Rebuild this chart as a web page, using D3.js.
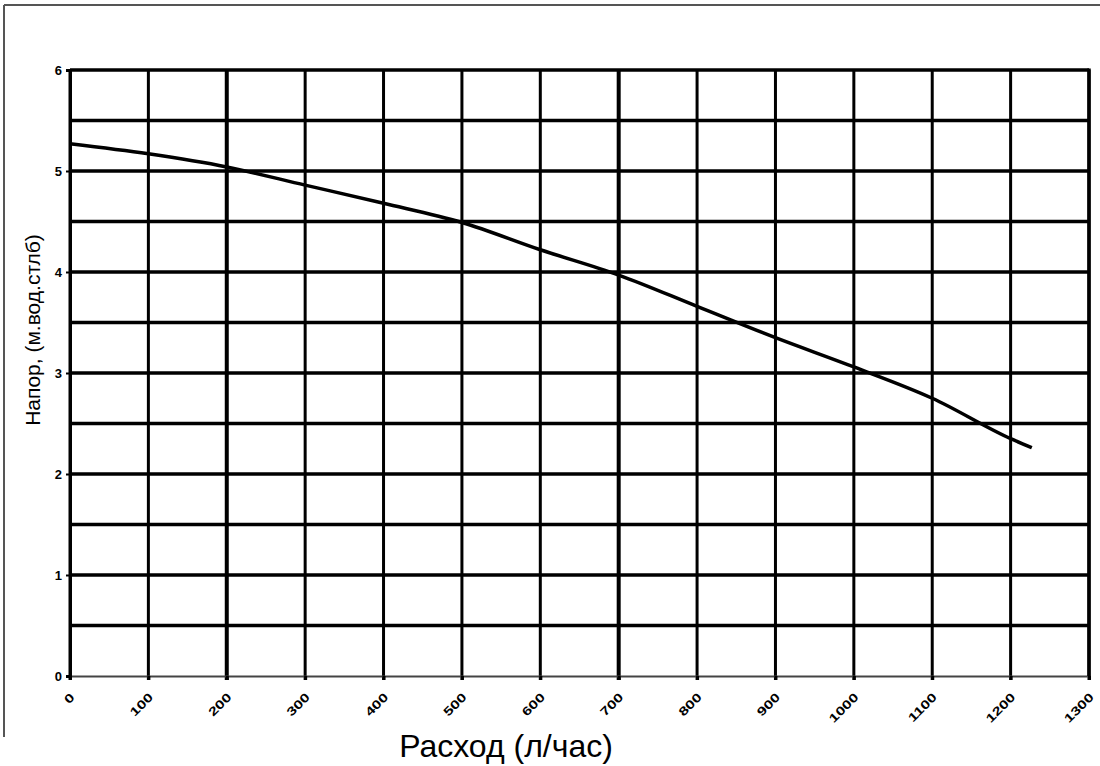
<!DOCTYPE html>
<html>
<head>
<meta charset="utf-8">
<script src="https://cdn.jsdelivr.net/npm/d3@7"></script>
<style>
  body { margin: 0; background: #fff; }
  .tick-label { font-family: "Liberation Sans", Arial, sans-serif; font-weight: bold; }
</style>
</head>
<body>
<div id="chart"></div>
<script>
(function() {
  var margin = { top: 70, left: 70, right: 11, bottom: 90 },
    width = 1100 - margin.left - margin.right,
    height = 766 - margin.top - margin.bottom;

  // pump curve
  var flowValues = [0, 100, 200, 300, 400, 500, 600, 700, 800, 900, 1000, 1100, 1200, 1227];
  var headValues = [5.27, 5.17, 5.04, 4.86, 4.68, 4.49, 4.22, 3.97, 3.66, 3.35, 3.06, 2.75, 2.35, 2.26];

  var xTickValues = [0, 100, 200, 300, 400, 500, 600, 700, 800, 900, 1000, 1100, 1200, 1300];
  var yTickValues = [0, 1, 2, 3, 4, 5, 6];
  var yGridValues = [0.5, 1, 1.5, 2, 2.5, 3, 3.5, 4, 4.5, 5, 5.5, 6];

  var xTitle = "Расход (л/час)";
  var yTitle = "Напор, (м.вод.стлб)";

  var root = d3.select("#chart")
    .append("svg")
    .attr("width", 1100)
    .attr("height", 766);

  // frame lines (left and top only)
  root.append("line")
    .attr("x1", 4).attr("x2", 4).attr("y1", 5).attr("y2", 737)
    .attr("stroke", "#555").attr("stroke-width", 2);
  root.append("line")
    .attr("x1", 4).attr("x2", 1100).attr("y1", 5).attr("y2", 5)
    .attr("stroke", "#555").attr("stroke-width", 2);

  var svg = root.append("g")
    .attr("transform", "translate(" + margin.left + "," + margin.top + ")");

  var xPositionScale = d3.scaleLinear().domain([0, 1300]).range([0, width]);
  var yPositionScale = d3.scaleLinear().domain([0, 6]).range([height, 0]);

  // horizontal grid
  svg.selectAll(".h-grid")
    .data(yGridValues)
    .enter().append("line")
    .attr("class", "h-grid")
    .attr("x1", 0)
    .attr("x2", width)
    .attr("y1", function(d) { return yPositionScale(d) })
    .attr("y2", function(d) { return yPositionScale(d) })
    .attr("stroke", "#000")
    .attr("stroke-width", 3.5);

  // vertical grid
  svg.selectAll(".v-grid")
    .data(xTickValues)
    .enter().append("line")
    .attr("class", "v-grid")
    .attr("x1", function(d) { return xPositionScale(d) })
    .attr("x2", function(d) { return xPositionScale(d) })
    .attr("y1", 0)
    .attr("y2", height + 4)
    .attr("stroke", "#000")
    .attr("stroke-width", function(d) { return (d == 200 || d == 700) ? 4 : 3 });

  var xAxis = d3.axisBottom(xPositionScale)
    .tickValues(xTickValues)
    .tickSize(4)
    .tickFormat(d3.format("d"));

  var xg = svg.append("g")
    .attr("class", "axis x-axis")
    .attr("transform", "translate(0," + height + ")")
    .call(xAxis);
  xg.select(".domain").attr("stroke", "#444").attr("stroke-width", 2);
  xg.selectAll(".tick line").attr("stroke", "#000").attr("stroke-width", 3);
  xg.selectAll(".tick text")
    .attr("class", "tick-label")
    .attr("font-size", 12)
    .attr("fill", "#000")
    .attr("text-anchor", "end")
    .attr("x", 0)
    .attr("y", 0)
    .attr("dy", 0)
    .attr("transform", "translate(5,22) rotate(-45) scale(1.35,1)");

  var yAxis = d3.axisLeft(yPositionScale)
    .tickValues(yTickValues)
    .tickSize(4)
    .tickFormat(d3.format("d"));

  var yg = svg.append("g")
    .attr("class", "axis y-axis")
    .call(yAxis);
  yg.select(".domain").attr("stroke", "#000").attr("stroke-width", 3);
  yg.selectAll(".tick line").attr("stroke", "#000").attr("stroke-width", 2);
  yg.selectAll(".tick text")
    .attr("class", "tick-label")
    .attr("font-size", 13)
    .attr("fill", "#000")
    .attr("x", -8);

  // right border of the plot
  svg.append("line")
    .attr("x1", width).attr("x2", width).attr("y1", -1.5).attr("y2", height)
    .attr("stroke", "#000").attr("stroke-width", 3.5);

  var points = flowValues.map(function(d, i) {
    return { flow: d, head: headValues[i] };
  });

  var line = d3.line()
    .x(function(d) { return xPositionScale(d.flow) })
    .y(function(d) { return yPositionScale(d.head) })
    .curve(d3.curveMonotoneX);

  svg.append("path")
    .datum(points)
    .attr("d", line)
    .attr("fill", "none")
    .attr("stroke", "#000")
    .attr("stroke-width", 3.5);

  root.append("text")
    .attr("x", 506)
    .attr("y", 757)
    .attr("text-anchor", "middle")
    .attr("font-family", "Liberation Sans, Arial, sans-serif")
    .attr("font-size", 32)
    .attr("fill", "#000")
    .text(xTitle);

  root.append("text")
    .attr("transform", "translate(40,330) rotate(-90)")
    .attr("text-anchor", "middle")
    .attr("font-family", "Liberation Sans, Arial, sans-serif")
    .attr("font-size", 21)
    .attr("fill", "#000")
    .text(yTitle);
})();
</script>
</body>
</html>
